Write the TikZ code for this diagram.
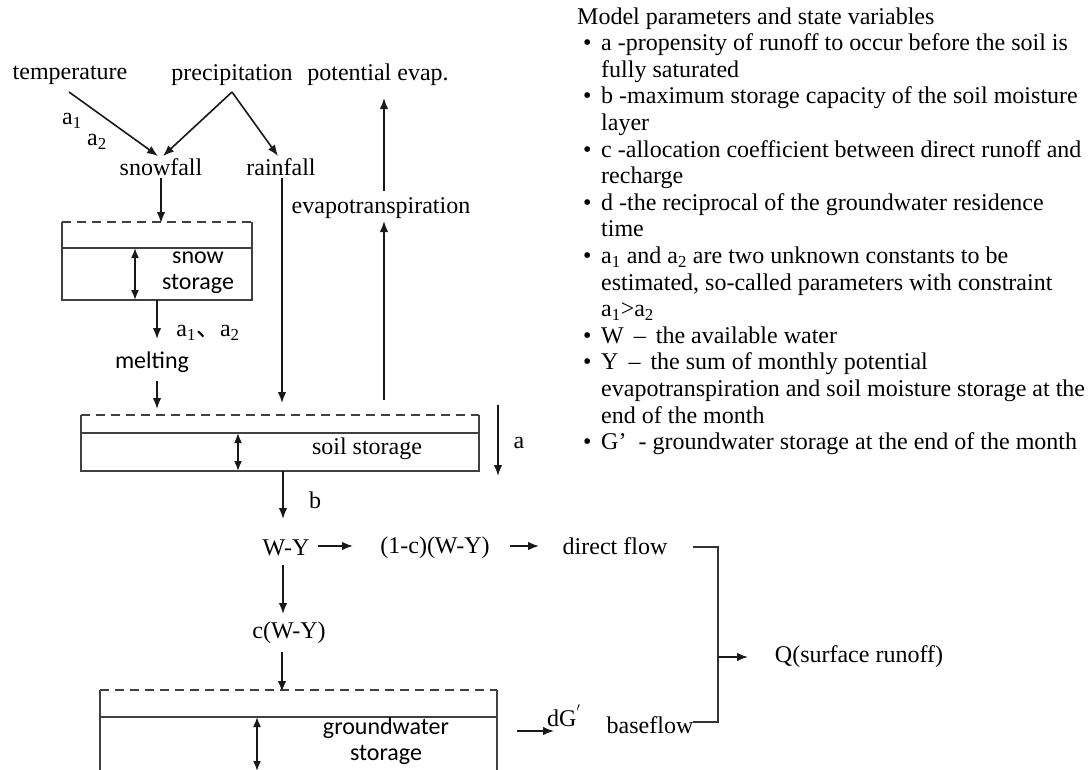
\documentclass[tikz,border=0pt]{standalone}
\usepackage{fontspec}
\setmainfont{Liberation Serif}
\newfontfamily\sanscal{Carlito}
\newfontfamily\cjkfont{Noto Sans CJK SC}
\usetikzlibrary{arrows.meta}
\newcommand\dfont{\fontsize{24}{27}\selectfont}
\begin{document}
\begin{tikzpicture}[x=1pt,y=-1pt,
  lbl/.style={font=\dfont, inner sep=2pt},
  sns/.style={font=\dfont\sanscal, inner sep=2pt, align=center},
  leg/.style={font=\dfont, anchor=base west, inner sep=0pt},
  tip/.style={-{Latex[length=11pt,width=8.5pt]}},
  arr/.style={draw=black!90, line width=1.6pt, tip},
  darr/.style={draw=black!90, line width=1.6pt, {Latex[length=10pt,width=8pt]}-{Latex[length=10pt,width=8pt]}},
  plain/.style={draw=black!80, line width=1.6pt},
  boxline/.style={draw=black!75, line width=1.7pt},
  dashline/.style={draw=black!75, line width=1.7pt, dash pattern=on 9pt off 6pt},
]
\useasboundingbox (0,0) rectangle (1089,769);
\clip (0,0) rectangle (1089,769);
\fill[white] (0,0) rectangle (1089,769);

% ---------- top labels ----------
\node[lbl] (temp) at (70,75) {temperature};
\node[lbl] (precip) at (232,75) {precipitation};
\node[lbl] (potevap) at (378,75) {potential evap.};
\node[lbl] (aone) at (72,121) {a\textsubscript{1}};
\node[lbl] (atwo) at (97,142) {a\textsubscript{2}};
\node[lbl] (snowfall) at (161,167) {snowfall};
\node[lbl] (rainfall) at (281,167) {rainfall};
\node[lbl] (evapo) at (381,208) {evapotranspiration};

\coordinate (tempout) at (69,92);
\coordinate (precipout) at (232,92);
\coordinate (sfin1) at (158,156);
\coordinate (sfin2) at (163,156);
\coordinate (rfin) at (278,156);
\draw[arr] (tempout) -- (sfin1);
\draw[arr] (precipout) -- (sfin2);
\draw[arr] (precipout) -- (rfin);

% ---------- snow storage ----------
\coordinate (snowTL) at (62,222);
\coordinate (snowTR) at (252,222);
\coordinate (snowML) at (62,248);
\coordinate (snowMR) at (252,248);
\coordinate (snowBL) at (62,300);
\coordinate (snowBR) at (252,300);
\draw[dashline] (snowTL) -- (snowTR);
\draw[boxline] (snowTL) -- (snowBL) -- (snowBR) -- (snowTR);
\draw[boxline] (snowML) -- (snowMR);
\coordinate (snowdA) at (135,248);
\coordinate (snowdB) at (135,300);
\draw[darr] (snowdA) -- (snowdB);
\node[sns] (snowtxt) at (198,273) {snow\\[-1pt]storage};
\coordinate (snowin) at (161,223);
\draw[arr] (snowfall.south) -- (snowin);

\coordinate (snowout) at (157,300);
\coordinate (meltarr) at (157,339);
\draw[arr] (snowout) -- (meltarr);
\node[lbl] (aa) at (208,333) {a\textsubscript{1}{\cjkfont 、}a\textsubscript{2}};
\node[font=\dfont\sanscal, inner sep=2pt] (melting) at (152,362) {melting};

% ---------- soil storage ----------
\coordinate (soilTL) at (81,415);
\coordinate (soilTR) at (479,415);
\coordinate (soilML) at (81,433);
\coordinate (soilMR) at (479,433);
\coordinate (soilBL) at (81,471);
\coordinate (soilBR) at (479,471);
\draw[dashline] (soilTL) -- (soilTR);
\draw[boxline] (soilTL) -- (soilBL) -- (soilBR) -- (soilTR);
\draw[boxline] (soilML) -- (soilMR);
\coordinate (soildA) at (238,433);
\coordinate (soildB) at (238,471);
\draw[darr] (soildA) -- (soildB);
\node[lbl] (soiltxt) at (367,449) {soil storage};

\coordinate (meltA) at (157,381);
\coordinate (meltB) at (157,409);
\draw[arr] (meltA) -- (meltB);
\coordinate (rainB) at (282,403);
\draw[arr] (rainfall.south -| rainB) -- (rainB);
\coordinate (evA) at (384,400);
\coordinate (evB) at (384,221);
\draw[arr] (evA) -- (evB);
\coordinate (evC) at (384,191);
\coordinate (evD) at (384,98);
\draw[arr] (evC) -- (evD);

\coordinate (aA) at (498,405);
\coordinate (aB) at (498,476);
\draw[arr] (aA) -- (aB);
\node[lbl] (alab) at (519,443) {a};

% ---------- W-Y ----------
\node[lbl] (WY) at (286,548) {W-Y};
\node[lbl] (omc) at (435,548) {(1-c)(W-Y)};
\node[lbl] (direct) at (615,546) {direct flow};
\node[lbl] (cWY) at (289,633) {c(W-Y)};
\coordinate (soilout) at (283,471);
\coordinate (bB) at (283,519);
\draw[arr] (soilout) -- (bB);
\node[lbl] (blab) at (315,500) {b};

\coordinate (wyA) at (318,546);
\coordinate (wyB) at (353,546);
\draw[arr] (wyA) -- (wyB);
\coordinate (omA) at (510,546);
\coordinate (omB) at (539,546);
\draw[arr] (omA) -- (omB);
\coordinate (wdA) at (283,565);
\coordinate (wdB) at (283,614);
\draw[arr] (wdA) -- (wdB);
\coordinate (cA) at (282,652);
\coordinate (cB) at (282,692);
\draw[arr] (cA) -- (cB);

% ---------- groundwater storage ----------
\coordinate (gwTL) at (100,690);
\coordinate (gwTR) at (497,690);
\coordinate (gwML) at (100,717);
\coordinate (gwMR) at (497,717);
\coordinate (gwBL) at (100,780);
\coordinate (gwBR) at (497,780);
\draw[dashline] (gwTL) -- (gwTR);
\draw[boxline] (gwBL) -- (gwTL);
\draw[boxline] (gwBR) -- (gwTR);
\draw[boxline] (gwML) -- (gwMR);
\coordinate (gwdA) at (257,717);
\coordinate (gwdB) at (257,771);
\draw[darr] (gwdA) -- (gwdB);
\node[sns] (gwtxt) at (386,741) {groundwater\\[-1pt]storage};

\node[lbl] (baseflow) at (650,725) {baseflow};
\coordinate (dgA) at (517,731);
\coordinate (dgB) at (554,731);
\draw[arr] (dgA) -- (dgB);
\node[lbl] (dglab) at (564,716) {dG$^{'}$};

% ---------- bracket to Q ----------
\coordinate (brA) at (693,547);
\coordinate (brB) at (718,547);
\coordinate (brC) at (718,722);
\coordinate (brD) at (693,722);
\draw[plain] (brA) -- (brB) -- (brC) -- (brD);
\coordinate (qA) at (718,657);
\node[lbl] (Q) at (859,657) {Q(surface runoff)};
\coordinate (qB) at (748,657);
\draw[arr] (qA) -- (qB);

% ---------- legend ----------
\node[leg] (l0) at (577,24.0) {Model parameters and state variables};
\foreach \yy in {50.6,103.8,157.0,210.2,263.4,343.2,369.8,449.6}
  \node[leg] at (583,\yy) {\textbullet};
\node[leg] (l1) at (601,50.6) {a -propensity of runoff to occur before the soil is};
\node[leg] (l2) at (601,77.2) {fully saturated};
\node[leg] (l3) at (601,103.8) {b -maximum storage capacity of the soil moisture};
\node[leg] (l4) at (601,130.4) {layer};
\node[leg] (l5) at (601,157.0) {c -allocation coefficient between direct runoff and};
\node[leg] (l6) at (601,183.6) {recharge};
\node[leg] (l7) at (601,210.2) {d -the reciprocal of the groundwater residence};
\node[leg] (l8) at (601,236.8) {time};
\node[leg] (l9) at (601,263.4) {a\textsubscript{1} and a\textsubscript{2} are two unknown constants to be};
\node[leg] (l10) at (601,290.0) {estimated, so-called parameters with constraint};
\node[leg] (l11) at (601,316.6) {a\textsubscript{1}>a\textsubscript{2}};
\node[leg] (l12) at (601,343.2) {W\, –\, the available water};
\node[leg] (l13) at (601,369.8) {Y\, –\, the sum of monthly potential};
\node[leg] (l14) at (601,396.4) {evapotranspiration and soil moisture storage at the};
\node[leg] (l15) at (601,423.0) {end of the month};
\node[leg] (l16) at (601,449.6) {G’\enspace - groundwater storage at the end of the month};
\end{tikzpicture}
\end{document}
